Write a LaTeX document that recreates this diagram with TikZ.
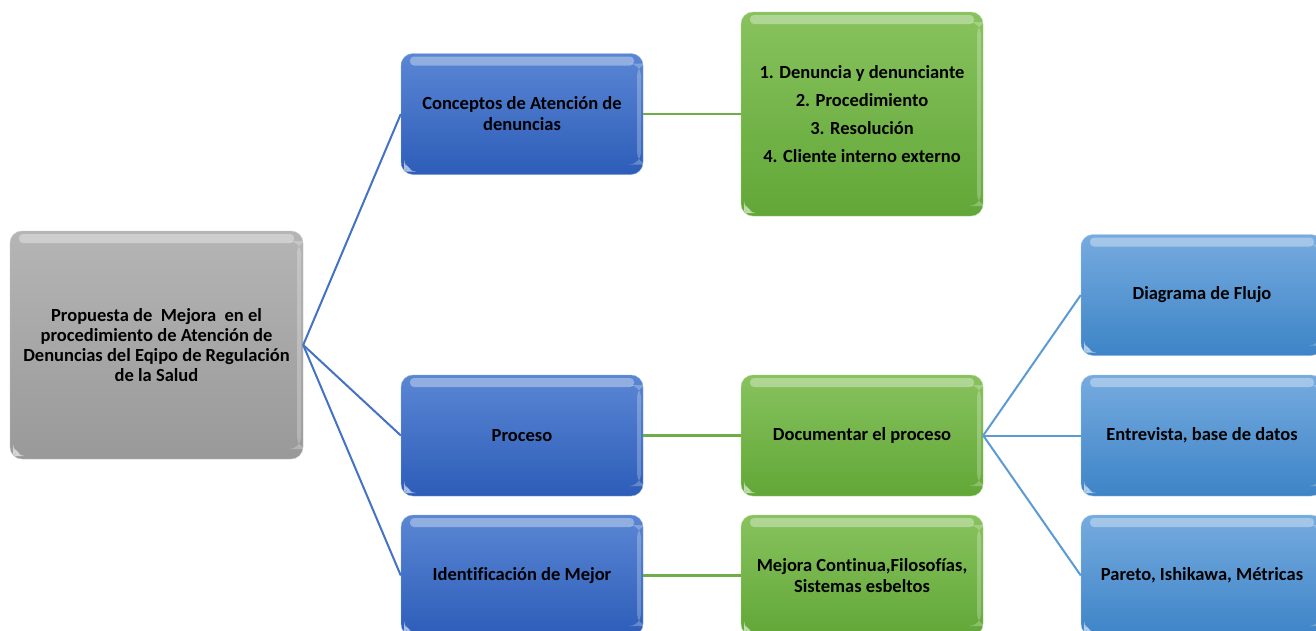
\documentclass[tikz,border=0pt]{standalone}
\usepackage{fontspec}
\setmainfont{Carlito}[Ligatures=NoCommon]

\definecolor{rootTop}{HTML}{B5B5B5}
\definecolor{rootBot}{HTML}{999999}
\definecolor{blueTop}{HTML}{5A86D3}
\definecolor{blueBot}{HTML}{2D5DB9}
\definecolor{greenTop}{HTML}{88C25E}
\definecolor{greenBot}{HTML}{61A737}
\definecolor{skyTop}{HTML}{76ABDF}
\definecolor{skyBot}{HTML}{3D84C7}
\definecolor{lineBlue}{HTML}{4472C4}
\definecolor{lineGreen}{HTML}{70AD47}
\definecolor{lineSky}{HTML}{5B9BD5}

\tikzset{
  x=1pt, y=-1pt,
  gloss/.style={
    path picture={
      \fill[white, opacity=0.35, rounded corners=4pt]
        ([xshift=9pt,yshift=-3pt]path picture bounding box.north west)
        rectangle ([xshift=-9pt,yshift=-12pt]path picture bounding box.north east);
      \fill[white, opacity=0.25]
        ([xshift=-6pt,yshift=-10pt]path picture bounding box.north east)
        rectangle ([xshift=-2pt,yshift=10pt]path picture bounding box.south east);
      \fill[white, opacity=0.6]
        ([xshift=3pt,yshift=3pt]path picture bounding box.south west)
        -- ([xshift=3pt,yshift=12pt]path picture bounding box.south west)
        -- ([xshift=12pt,yshift=3pt]path picture bounding box.south west) -- cycle;
    }},
  card/.style={rounded corners=12pt, align=center, font=\bfseries\fontsize{18.5}{21}\selectfont,
    text=black, inner sep=0pt, gloss},
  rootcard/.style={card, top color=rootTop, bottom color=rootBot, draw=rootTop!80!white,
    minimum width=293pt, minimum height=228pt, font=\bfseries\fontsize{18.5}{20}\selectfont},
  bluecard/.style={card, top color=blueTop, bottom color=blueBot, draw=blueTop!70!white,
    minimum width=242pt, minimum height=121pt},
  greencard/.style={card, top color=greenTop, bottom color=greenBot, draw=greenTop!70!white,
    minimum width=242pt, minimum height=121pt},
  skycard/.style={card, top color=skyTop, bottom color=skyBot, draw=skyTop!70!white,
    minimum width=242pt, minimum height=121pt},
  linkblue/.style={draw=lineBlue, line width=2pt},
  linkgreen/.style={draw=lineGreen, line width=2.2pt},
  linksky/.style={draw=lineSky, line width=2pt},
}

\begin{document}
\begin{tikzpicture}
\useasboundingbox (0,0) rectangle (1316,630);
\fill[white] (0,0) rectangle (1316,630);
\clip (0,0) rectangle (1316,630);

% main topic
\node[rootcard] (root) at (156.5,345)
  {Propuesta de\ \ Mejora\ \ en el\\procedimiento de Atención de\\Denuncias del Eqipo de Regulación\\de la Salud};

% second level
\node[bluecard] (conc) at (522,114) {Conceptos de Atención de\\denuncias};
\node[bluecard] (proc) at (522,435.5) {Proceso};
\node[bluecard] (iden) at (522,575.5) {Identificación de Mejor};

% third level
\node[greencard, minimum height=204pt, font=\bfseries\fontsize{18.5}{28}\selectfont] (list) at (862,114)
  {1. Denuncia y denunciante\\2. Procedimiento\\3. Resolución\\4. Cliente interno externo};
\node[greencard] (doc) at (862,435.5) {Documentar el proceso};
\node[greencard] (mej) at (862,575.5) {Mejora Continua,Filosofías,\\Sistemas esbeltos};

% fourth level
\node[skycard] (flujo) at (1202,295) {Diagrama de Flujo};
\node[skycard] (entr) at (1202,435.5) {Entrevista, base de datos};
\node[skycard] (pare) at (1202,575.5) {Pareto, Ishikawa, Métricas};

% connectors
\path[linkblue] (root.east) -- (conc.west);
\path[linkblue] (root.east) -- (proc.west);
\path[linkblue] (root.east) -- (iden.west);
\path[linkgreen] (conc.east) -- (list.west);
\path[linkgreen] (proc.east) -- (doc.west);
\path[linkgreen] (iden.east) -- (mej.west);
\path[linksky] (doc.east) -- (flujo.west);
\path[linksky] (doc.east) -- (entr.west);
\path[linksky] (doc.east) -- (pare.west);
\end{tikzpicture}
\end{document}
